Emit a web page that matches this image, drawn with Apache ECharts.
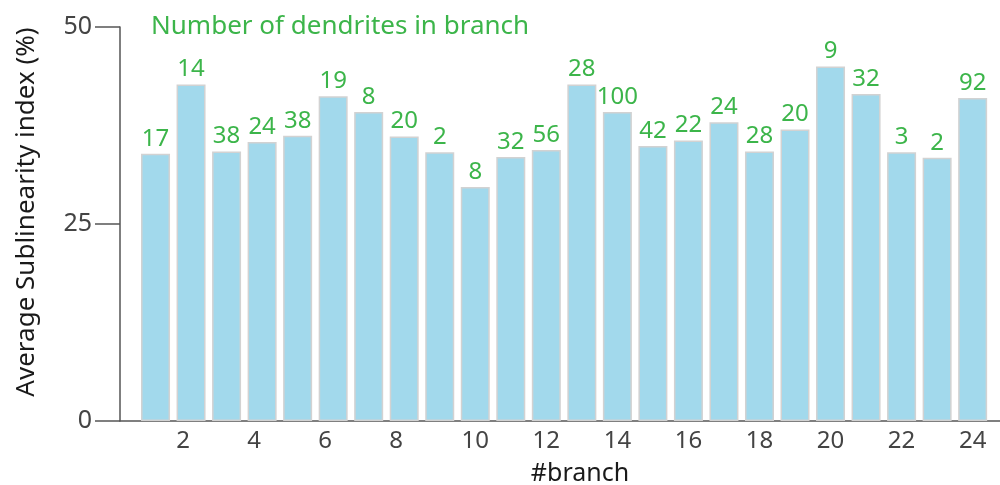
<!DOCTYPE html>
<html>
<head>
    <meta charset="utf-8">
    <title>Sublinearity</title>
    <script src="https://cdn.jsdelivr.net/npm/echarts@6/dist/echarts.min.js"></script>
</head>
<body style="margin:0">
    <div id="main" style="width:1000px;height:485px;"></div>
    <script type="text/javascript">
        var myChart = echarts.init(document.getElementById('main'));

        // branch numbers, average sublinearity (%) and dendrite counts
        var branches = [1, 2, 3, 4, 5, 6, 7, 8, 9, 10, 11, 12, 13, 14, 15, 16, 17, 18, 19, 20, 21, 22, 23, 24];
        var sublinearity = [33.9, 42.7, 34.2, 35.4, 36.2, 41.2, 39.2, 36.1, 34.1, 29.7, 33.5, 34.4,
                            42.7, 39.2, 34.9, 35.6, 37.9, 34.2, 37.0, 45.0, 41.5, 34.1, 33.4, 41.0];
        var dendrites = [17, 14, 38, 24, 38, 19, 8, 20, 2, 8, 32, 56, 28, 100, 42, 22, 24, 28, 20, 9, 32, 3, 2, 92];
        var yTicks = [0, 25, 50];

        var green = '#3cb54a';
        var font = 'Noto Sans';

        var option = {
            animation: false,
            textStyle: { fontFamily: font },
            title: {
                text: 'Number of dendrites in branch',
                left: 146,
                top: 9,
                textStyle: { color: green, fontSize: 26, fontWeight: 'normal', fontFamily: font }
            },
            grid: { left: 120, right: 0, top: 27, bottom: 64, containLabel: false, outerBoundsMode: 'none' },
            xAxis: {
                type: 'value',
                min: 0,
                max: 24.77,
                interval: 2,
                name: '#branch',
                nameLocation: 'middle',
                nameGap: 40,
                nameTextStyle: { color: '#1a1a1a', fontSize: 25, padding: [0, 0, 0, 40] },
                axisLine: { show: true, onZero: false, lineStyle: { color: '#555', width: 1.5 } },
                axisTick: { show: false },
                splitLine: { show: false },
                axisLabel: {
                    color: '#444',
                    fontSize: 24,
                    margin: 8,
                    formatter: function (v) {
                        if (v === 0) return '';
                        return v < 10 ? '{s|' + v + '}' : v;
                    },
                    rich: { s: { color: '#444', fontSize: 24, padding: [0, 16, 0, 0] } }
                }
            },
            yAxis: {
                type: 'value',
                min: yTicks[0],
                max: yTicks[yTicks.length - 1],
                interval: 25,
                name: 'Average Sublinearity index (%)',
                nameLocation: 'middle',
                nameGap: 80,
                nameTextStyle: { color: '#1a1a1a', fontSize: 26, padding: [0, 0, 0, 24] },
                axisLine: { show: true, lineStyle: { color: '#555', width: 1.5 } },
                axisTick: { show: true, length: 25, lineStyle: { color: '#555', width: 1.5 } },
                splitLine: { show: false },
                axisLabel: { color: '#444', fontSize: 25, margin: 28 }
            },
            series: [{
                type: 'bar',
                barWidth: 29,
                data: branches.map(function (b, i) { return [b, sublinearity[i]]; }),
                itemStyle: { color: '#a2d9ec', borderColor: '#d2d2d2', borderWidth: 1.5 },
                label: {
                    show: true,
                    position: 'top',
                    distance: 3,
                    color: green,
                    fontSize: 24,
                    formatter: function (p) { return dendrites[p.dataIndex]; }
                }
            }]
        };

        myChart.setOption(option);
    </script>
</body>
</html>
